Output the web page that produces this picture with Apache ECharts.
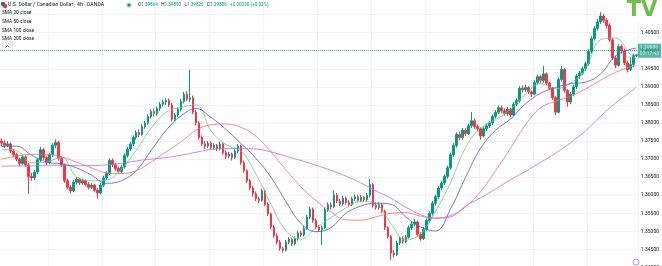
<!DOCTYPE html>
<html>
<head>
<meta charset="utf-8">
<script src="https://cdn.jsdelivr.net/npm/echarts@6/dist/echarts.min.js"></script>
<style>
  html, body { margin: 0; padding: 0; background: #fff; overflow: hidden; width: 662px; height: 266px; position: relative; }
  /* plot is a bit taller than the window so the 1.340 / 1.415 ticks fall just outside it */
  #chart { position: absolute; left: 0; top: -6px; width: 662px; height: 276px; }
</style>
</head>
<body>
<div id="chart"></div>
<script>
// USD/CAD 4h candles: [open, close, low, high]
const ohlc = [
  [1.3750,1.3745,1.3736,1.3757],[1.3745,1.3738,1.3731,1.3752],[1.3738,1.3742,1.3733,1.3750],[1.3742,1.3722,1.3716,1.3746],
  [1.3722,1.3712,1.3705,1.3728],[1.3712,1.3700,1.3694,1.3718],[1.3700,1.3688,1.3680,1.3704],[1.3688,1.3706,1.3684,1.3712],
  [1.3706,1.3684,1.3678,1.3710],[1.3684,1.3652,1.3604,1.3690],[1.3652,1.3648,1.3640,1.3662],[1.3648,1.3664,1.3642,1.3670],
  [1.3664,1.3698,1.3658,1.3704],[1.3698,1.3726,1.3692,1.3734],[1.3726,1.3704,1.3698,1.3730],[1.3704,1.3690,1.3684,1.3708],
  [1.3690,1.3712,1.3686,1.3718],[1.3712,1.3738,1.3706,1.3744],[1.3738,1.3746,1.3730,1.3754],[1.3746,1.3702,1.3696,1.3750],
  [1.3702,1.3684,1.3678,1.3708],[1.3684,1.3640,1.3634,1.3688],[1.3640,1.3622,1.3616,1.3646],[1.3622,1.3612,1.3606,1.3628],
  [1.3612,1.3636,1.3608,1.3642],[1.3636,1.3644,1.3630,1.3650],[1.3644,1.3634,1.3628,1.3648],[1.3634,1.3640,1.3629,1.3646],
  [1.3640,1.3630,1.3624,1.3644],[1.3630,1.3622,1.3616,1.3636],[1.3622,1.3628,1.3617,1.3634],[1.3628,1.3614,1.3608,1.3632],
  [1.3614,1.3606,1.3591,1.3620],[1.3606,1.3628,1.3602,1.3634],[1.3628,1.3648,1.3622,1.3654],[1.3648,1.3660,1.3642,1.3666],
  [1.3660,1.3696,1.3656,1.3702],[1.3696,1.3684,1.3678,1.3702],[1.3684,1.3674,1.3668,1.3690],[1.3674,1.3666,1.3660,1.3680],
  [1.3666,1.3678,1.3661,1.3684],[1.3678,1.3710,1.3674,1.3716],[1.3710,1.3728,1.3704,1.3734],[1.3728,1.3742,1.3722,1.3748],
  [1.3742,1.3760,1.3736,1.3766],[1.3760,1.3774,1.3754,1.3780],[1.3774,1.3768,1.3761,1.3782],[1.3768,1.3790,1.3764,1.3796],
  [1.3790,1.3800,1.3784,1.3806],[1.3800,1.3818,1.3795,1.3824],[1.3818,1.3832,1.3812,1.3838],[1.3832,1.3826,1.3818,1.3840],
  [1.3826,1.3840,1.3820,1.3846],[1.3840,1.3852,1.3834,1.3858],[1.3852,1.3858,1.3846,1.3864],[1.3858,1.3862,1.3850,1.3868],
  [1.3862,1.3850,1.3844,1.3868],[1.3850,1.3810,1.3804,1.3856],[1.3810,1.3822,1.3805,1.3828],[1.3822,1.3838,1.3816,1.3844],
  [1.3838,1.3860,1.3832,1.3866],[1.3860,1.3880,1.3854,1.3886],[1.3880,1.3866,1.3860,1.3888],[1.3866,1.3870,1.3858,1.3947],
  [1.3870,1.3830,1.3824,1.3876],[1.3830,1.3800,1.3794,1.3836],[1.3800,1.3760,1.3754,1.3806],[1.3760,1.3742,1.3736,1.3766],
  [1.3742,1.3736,1.3728,1.3750],[1.3736,1.3744,1.3730,1.3750],[1.3744,1.3732,1.3726,1.3750],[1.3732,1.3738,1.3726,1.3744],
  [1.3738,1.3728,1.3722,1.3742],[1.3728,1.3742,1.3724,1.3748],[1.3742,1.3718,1.3712,1.3746],[1.3718,1.3708,1.3700,1.3724],
  [1.3708,1.3714,1.3702,1.3720],[1.3714,1.3704,1.3696,1.3718],[1.3704,1.3722,1.3700,1.3728],[1.3722,1.3736,1.3716,1.3742],
  [1.3736,1.3690,1.3684,1.3740],[1.3690,1.3668,1.3662,1.3696],[1.3668,1.3640,1.3634,1.3672],[1.3640,1.3620,1.3614,1.3646],
  [1.3620,1.3604,1.3596,1.3626],[1.3604,1.3590,1.3584,1.3610],[1.3590,1.3586,1.3578,1.3596],[1.3586,1.3612,1.3582,1.3618],
  [1.3612,1.3575,1.3570,1.3616],[1.3575,1.3548,1.3542,1.3580],[1.3548,1.3512,1.3506,1.3552],[1.3512,1.3488,1.3482,1.3518],
  [1.3488,1.3470,1.3464,1.3494],[1.3470,1.3452,1.3446,1.3476],[1.3452,1.3448,1.3441,1.3458],[1.3448,1.3470,1.3444,1.3476],
  [1.3470,1.3478,1.3464,1.3484],[1.3478,1.3466,1.3460,1.3482],[1.3466,1.3480,1.3461,1.3486],[1.3480,1.3496,1.3474,1.3502],
  [1.3496,1.3490,1.3484,1.3502],[1.3490,1.3508,1.3486,1.3514],[1.3508,1.3540,1.3504,1.3546],[1.3540,1.3562,1.3534,1.3568],
  [1.3562,1.3530,1.3524,1.3566],[1.3530,1.3512,1.3506,1.3536],[1.3512,1.3504,1.3498,1.3518],[1.3504,1.3510,1.3463,1.3516],
  [1.3510,1.3560,1.3506,1.3566],[1.3560,1.3574,1.3554,1.3580],[1.3574,1.3568,1.3560,1.3580],[1.3568,1.3600,1.3564,1.3613],
  [1.3600,1.3584,1.3578,1.3606],[1.3584,1.3576,1.3570,1.3590],[1.3576,1.3592,1.3571,1.3598],[1.3592,1.3580,1.3574,1.3596],
  [1.3580,1.3574,1.3568,1.3586],[1.3574,1.3590,1.3570,1.3596],[1.3590,1.3596,1.3584,1.3602],[1.3596,1.3586,1.3580,1.3600],
  [1.3586,1.3594,1.3581,1.3600],[1.3594,1.3588,1.3582,1.3598],[1.3588,1.3600,1.3584,1.3606],[1.3600,1.3630,1.3594,1.3645],
  [1.3630,1.3572,1.3566,1.3634],[1.3572,1.3566,1.3560,1.3580],[1.3566,1.3574,1.3560,1.3580],[1.3574,1.3556,1.3550,1.3578],
  [1.3556,1.3510,1.3504,1.3560],[1.3510,1.3486,1.3480,1.3514],[1.3486,1.3440,1.3420,1.3490],[1.3440,1.3436,1.3428,1.3448],
  [1.3436,1.3468,1.3432,1.3474],[1.3468,1.3480,1.3462,1.3486],[1.3480,1.3472,1.3466,1.3486],[1.3472,1.3484,1.3467,1.3490],
  [1.3484,1.3510,1.3480,1.3516],[1.3510,1.3520,1.3504,1.3526],[1.3520,1.3526,1.3514,1.3534],[1.3526,1.3492,1.3486,1.3530],
  [1.3492,1.3480,1.3474,1.3498],[1.3480,1.3506,1.3476,1.3512],[1.3506,1.3530,1.3500,1.3536],[1.3530,1.3550,1.3524,1.3556],
  [1.3550,1.3578,1.3544,1.3584],[1.3578,1.3596,1.3572,1.3602],[1.3596,1.3620,1.3590,1.3626],[1.3620,1.3634,1.3614,1.3640],
  [1.3634,1.3652,1.3628,1.3658],[1.3652,1.3676,1.3646,1.3682],[1.3676,1.3712,1.3670,1.3718],[1.3712,1.3738,1.3706,1.3744],
  [1.3738,1.3768,1.3732,1.3774],[1.3768,1.3760,1.3752,1.3776],[1.3760,1.3780,1.3754,1.3786],[1.3780,1.3770,1.3764,1.3786],
  [1.3770,1.3792,1.3766,1.3798],[1.3792,1.3806,1.3786,1.3830],[1.3806,1.3790,1.3784,1.3812],[1.3790,1.3784,1.3776,1.3796],
  [1.3784,1.3764,1.3754,1.3788],[1.3764,1.3784,1.3760,1.3790],[1.3784,1.3792,1.3778,1.3798],[1.3792,1.3800,1.3786,1.3806],
  [1.3800,1.3818,1.3794,1.3824],[1.3818,1.3830,1.3812,1.3836],[1.3830,1.3842,1.3824,1.3848],[1.3842,1.3834,1.3826,1.3848],
  [1.3834,1.3826,1.3820,1.3840],[1.3826,1.3838,1.3820,1.3844],[1.3838,1.3822,1.3816,1.3842],[1.3822,1.3852,1.3818,1.3858],
  [1.3852,1.3862,1.3846,1.3868],[1.3862,1.3896,1.3856,1.3902],[1.3896,1.3892,1.3884,1.3904],[1.3892,1.3898,1.3886,1.3906],
  [1.3898,1.3886,1.3880,1.3902],[1.3886,1.3880,1.3872,1.3890],[1.3880,1.3912,1.3876,1.3918],[1.3912,1.3928,1.3906,1.3934],
  [1.3928,1.3918,1.3910,1.3932],[1.3918,1.3936,1.3912,1.3958],[1.3936,1.3910,1.3904,1.3940],[1.3910,1.3896,1.3890,1.3914],
  [1.3896,1.3870,1.3864,1.3900],[1.3870,1.3830,1.3822,1.3874],[1.3830,1.3920,1.3826,1.3926],[1.3920,1.3948,1.3914,1.3958],
  [1.3948,1.3890,1.3884,1.3952],[1.3890,1.3858,1.3845,1.3894],[1.3858,1.3880,1.3852,1.3886],[1.3880,1.3900,1.3874,1.3906],
  [1.3900,1.3930,1.3894,1.3936],[1.3930,1.3938,1.3922,1.3944],[1.3938,1.3950,1.3932,1.3956],[1.3950,1.3964,1.3944,1.3970],
  [1.3964,1.3998,1.3958,1.4004],[1.3998,1.4034,1.3992,1.4040],[1.4034,1.4062,1.4028,1.4068],[1.4062,1.4080,1.4056,1.4088],
  [1.4080,1.4096,1.4074,1.4107],[1.4096,1.4084,1.4076,1.4102],[1.4084,1.4070,1.4062,1.4090],[1.4070,1.4030,1.4024,1.4076],
  [1.4030,1.3980,1.3974,1.4036],[1.3980,1.3960,1.3952,1.3986],[1.3960,1.4012,1.3956,1.4018],[1.4012,1.4000,1.3992,1.4018],
  [1.4000,1.3966,1.3960,1.4006],[1.3966,1.3948,1.3940,1.3972],[1.3948,1.3962,1.3944,1.3982],[1.3962,1.39864,1.3954,1.3992],
  [1.39864,1.39886,1.39826,1.39890]
];
const bars = ohlc.map((d, i) => String(i));

const smaIdx = [0,5,10,15,20,25,30,35,40,45,50,55,60,65,70,75,80,85,90,95,100,105,110,115,120,125,130,135,140,145,150,155,160,165,170,175,180,185,190,195,200,205,210,212];
const sma20 = [1.3727,1.3724,1.3690,1.3692,1.3705,1.3652,1.3640,1.3642,1.3672,1.3724,1.3786,1.3830,1.3843,1.3850,1.3778,1.3740,1.3722,1.3658,1.3575,1.3502,1.3478,1.3510,1.3538,1.3565,1.3583,1.3577,1.3522,1.3476,1.3494,1.3557,1.3636,1.3732,1.3787,1.3809,1.3838,1.3880,1.3909,1.3895,1.3910,1.3948,1.4030,1.4035,1.3990,1.3978];
const sma50 = [1.3735,1.3736,1.3711,1.3692,1.3687,1.3676,1.3656,1.3633,1.3640,1.3668,1.3724,1.3780,1.3820,1.3840,1.3815,1.3782,1.3743,1.3702,1.3650,1.3582,1.3522,1.3499,1.3510,1.3550,1.3570,1.3578,1.3575,1.3540,1.3512,1.3501,1.3563,1.3650,1.3730,1.3780,1.3811,1.3853,1.3882,1.3898,1.3909,1.3913,1.3935,1.3985,1.4004,1.4007];
const sma100 = [1.3700,1.3708,1.3713,1.3713,1.3706,1.3692,1.3676,1.3662,1.3660,1.3668,1.3692,1.3720,1.3748,1.3780,1.3795,1.3797,1.3788,1.3763,1.3720,1.3670,1.3623,1.3585,1.3554,1.3532,1.3531,1.3540,1.3550,1.3552,1.3542,1.3537,1.3544,1.3568,1.3610,1.3668,1.3730,1.3795,1.3842,1.3860,1.3874,1.3894,1.3918,1.3940,1.3955,1.3958];
const sma200 = [1.3680,1.3681,1.3681,1.3683,1.3683,1.3682,1.3682,1.3684,1.3688,1.3695,1.3700,1.3704,1.3711,1.3719,1.3727,1.3729,1.3729,1.3728,1.3720,1.3708,1.3696,1.3683,1.3669,1.3653,1.3634,1.3612,1.3592,1.3567,1.3546,1.3536,1.3540,1.3570,1.3593,1.3617,1.3643,1.3666,1.3691,1.3716,1.3745,1.3778,1.3818,1.3855,1.3886,1.3900];

const smaNames = ['SMA 20 close', 'SMA 50 close', 'SMA 100 close', 'SMA 200 close'];
const gridIdx = [16, 34, 52, 70, 88, 106, 124, 142, 160, 178, 196];
const lastPrice = 1.39886;
const countdown = '03:17:43';

const UP = '#089981', DOWN = '#f23645';
const FONT = 'Roboto, "Noto Sans", sans-serif';
const SH = 6; // the div starts 6px above the window

var chart = echarts.init(document.getElementById('chart'), null, { renderer: 'canvas' });

function smaSeries(vals, color) {
    return {
        type: 'line',
        data: smaIdx.map((k, j) => [k, vals[j]]),
        smooth: 0.4,
        showSymbol: false,
        silent: true,
        lineStyle: { color: color, width: 0.8 },
        z: 3
    };
}

function label(txt, y) {
    return {
        type: 'text', x: 2, y: y + SH, z: 10,
        style: { text: txt, fill: '#131722', fontSize: 4.8, fontFamily: FONT, verticalAlign: 'middle' }
    };
}

var option = {
    animation: false,
    backgroundColor: '#fff',
    grid: { left: 0, right: 22, top: 0, bottom: 0, containLabel: false },
    xAxis: {
        type: 'category',
        data: bars,
        boundaryGap: true,
        axisLine: { show: false },
        axisTick: { show: false },
        axisLabel: { show: false },
        splitLine: {
            show: true,
            interval: function (i) { return gridIdx.indexOf(i) >= 0; },
            lineStyle: { color: '#f0f2f6', width: 1 }
        }
    },
    yAxis: {
        type: 'value',
        position: 'right',
        min: 1.340,
        max: 1.415,
        interval: 0.005,
        axisLine: { show: false },
        axisTick: { show: false },
        axisLabel: {
            margin: 3,
            fontSize: 5,
            color: '#131722',
            fontFamily: FONT,
            formatter: function (v) { return v.toFixed(5); }
        },
        splitLine: { lineStyle: { color: '#f0f2f6', width: 1 } }
    },
    series: [
        {
            type: 'candlestick',
            data: ohlc,
            barWidth: 2,
            itemStyle: {
                color: UP, color0: DOWN,
                borderColor: UP, borderColor0: DOWN,
                borderWidth: 1
            },
            z: 2,
            markLine: {
                silent: true,
                symbol: 'none',
                data: [{ yAxis: lastPrice }],
                lineStyle: { color: UP, type: 'dotted', width: 1, opacity: 0.7 },
                label: {
                    position: 'end',
                    distance: 0,
                    formatter: lastPrice.toFixed(5) + '\n' + countdown,
                    backgroundColor: UP,
                    color: '#fff',
                    fontSize: 5,
                    lineHeight: 6,
                    fontFamily: FONT,
                    padding: [1, 2]
                }
            }
        },
        smaSeries(sma20, '#7cc47f'),
        smaSeries(sma50, '#4b57e0'),
        smaSeries(sma100, '#f06e6e'),
        smaSeries(sma200, '#b86cf0')
    ],
    graphic: [
        // title bar
        { type: 'circle', shape: { cx: 3, cy: 4 + SH, r: 2.2 }, style: { fill: '#3c5aa6' }, z: 10 },
        { type: 'circle', shape: { cx: 5, cy: 6 + SH, r: 2.2 }, style: { fill: '#e53935' }, z: 10 },
        {
            type: 'text', x: 8, y: 5 + SH, z: 10,
            style: {
                text: 'U.S. Dollar / Canadian Dollar \u00b7 4h \u00b7 OANDA',
                fill: '#131722', fontSize: 5.2, fontFamily: FONT, verticalAlign: 'middle'
            }
        },
        { type: 'circle', shape: { cx: 129, cy: 5 + SH, r: 3 }, style: { fill: 'rgba(8,153,129,0.2)' }, z: 10 },
        { type: 'circle', shape: { cx: 129, cy: 5 + SH, r: 1.6 }, style: { fill: UP }, z: 10 },
        {
            type: 'text', x: 138, y: 5 + SH, z: 10,
            style: {
                text: '{g|O}{v|1.39864} {g|H}{v|1.39890} {g|L}{v|1.39826} {g|C}{v|1.39886} {v|+0.00030 (+0.02%)}',
                verticalAlign: 'middle',
                rich: {
                    g: { fill: '#131722', fontSize: 4.6, fontFamily: FONT },
                    v: { fill: UP, fontSize: 4.6, fontFamily: FONT }
                }
            }
        },
        // indicator labels
        label(smaNames[0], 13.3),
        label(smaNames[1], 22),
        label(smaNames[2], 30.7),
        label(smaNames[3], 39.3),
        { type: 'rect', shape: { x: 2.5, y: 43 + SH, width: 10, height: 7, r: 1 }, style: { fill: '#fff', stroke: '#d1d4dc', lineWidth: 0.6 }, z: 10 },
        { type: 'polyline', shape: { points: [[5.5, 47.5 + SH], [7.5, 45.5 + SH], [9.5, 47.5 + SH]] }, style: { stroke: '#131722', lineWidth: 0.6, fill: null }, z: 10 },
        // logo
        { type: 'rect', shape: { x: 624, y: 0, width: 38, height: 22 + SH }, style: { fill: '#fff' }, z: 10 },
        {
            type: 'text', x: 642, y: 11 + SH, z: 11,
            style: {
                text: 'TV', fill: '#6cc04a', fontSize: 21, fontWeight: 900,
                fontFamily: '"DejaVu Sans", sans-serif', align: 'center', verticalAlign: 'middle'
            }
        },
        // bottom-right icon
        { type: 'circle', shape: { cx: 636, cy: 262 + SH, r: 3 }, style: { fill: '#fff', stroke: '#9c5cf0', lineWidth: 0.7 }, z: 10 }
    ]
};

chart.setOption(option);
window.addEventListener('resize', chart.resize);
</script>
</body>
</html>
